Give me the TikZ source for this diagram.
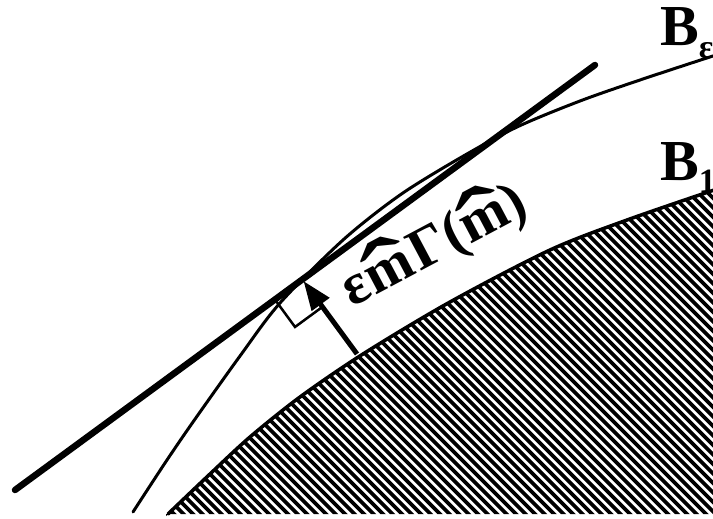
\documentclass[tikz,border=0pt]{standalone}
\usepackage{fontspec}
\setmainfont{Liberation Serif}
\usepackage{graphicx}
\usetikzlibrary{calc, arrows.meta}

\newcommand{\mhat}{\setbox0\hbox{m}\leavevmode\rlap{\hbox to\wd0{\hss\raisebox{-0.2em}{\scalebox{2.4}[1.5]{ˆ}}\hss}}m}
\newcommand{\lbsub}[1]{\raisebox{-0.22em}{\fontsize{34}{34}\selectfont #1}}

\begin{document}
\begin{tikzpicture}[x=1pt, y=-1pt, line cap=round, line join=round,
  lab/.style={font=\fontsize{58}{58}\selectfont\bfseries, inner sep=0pt}]
  \useasboundingbox (0,0) rectangle (713,519);
  \clip (0,0) rectangle (713,519);

  \coordinate (A) at (15,490);
  \coordinate (B) at (595,65);
  \coordinate (T) at (357,354);
  \coordinate (F) at ($(A)!(T)!(B)$);

  % B_1 阴影
  \begin{scope}
    \clip plot[smooth] coordinates {(166,516) (210,474) (250,437) (300,397) (363,354) (450,302) (550,250) (627,220) (720,188)}
      -- (720,514) -- (166,514) -- cycle;
    \foreach \x in {-530,-520.5,...,713}
      \draw[line width=3.6pt, line cap=butt] (\x,0) -- ++(540,540);
  \end{scope}
  \draw[line width=3.5pt] plot[smooth] coordinates {(168,514) (210,474) (250,437) (300,397) (363,354) (450,302) (550,250) (627,220) (720,188)};

  % B_eps
  \draw[line width=3pt] plot[smooth] coordinates {(133,512) (165,463) (193,422) (240,356) (280,303) (343,240) (400,195) (460,158) (517,127) (580,101) (640,80) (713,56) (730,51)};

  % 切线
  \draw[line width=6.5pt] (A) -- (B);

  % 直角
  \coordinate (S1) at ($(F)!34pt!(A)$);
  \coordinate (S3) at ($(F)!34pt!(T)$);
  \draw[line width=2.5pt, line join=miter] (S1) -- ($(S1)+(S3)-(F)$) -- (S3);

  \draw[line width=5pt, line cap=butt, shorten >=2pt, -{Triangle[length=29pt,width=21pt]}] (T) -- (F);

  \node[lab, anchor=base west] (Beps) at (660,46) {B\lbsub{ε}};
  \node[lab, anchor=base west] (Bone) at (660,180) {B\lbsub{1}};
  \node[lab, anchor=base west, rotate=28] (gam) at (352,308) {ε\kern2pt\mhat\kern2pt Γ\kern1pt(\mhat)};
\end{tikzpicture}
\end{document}
